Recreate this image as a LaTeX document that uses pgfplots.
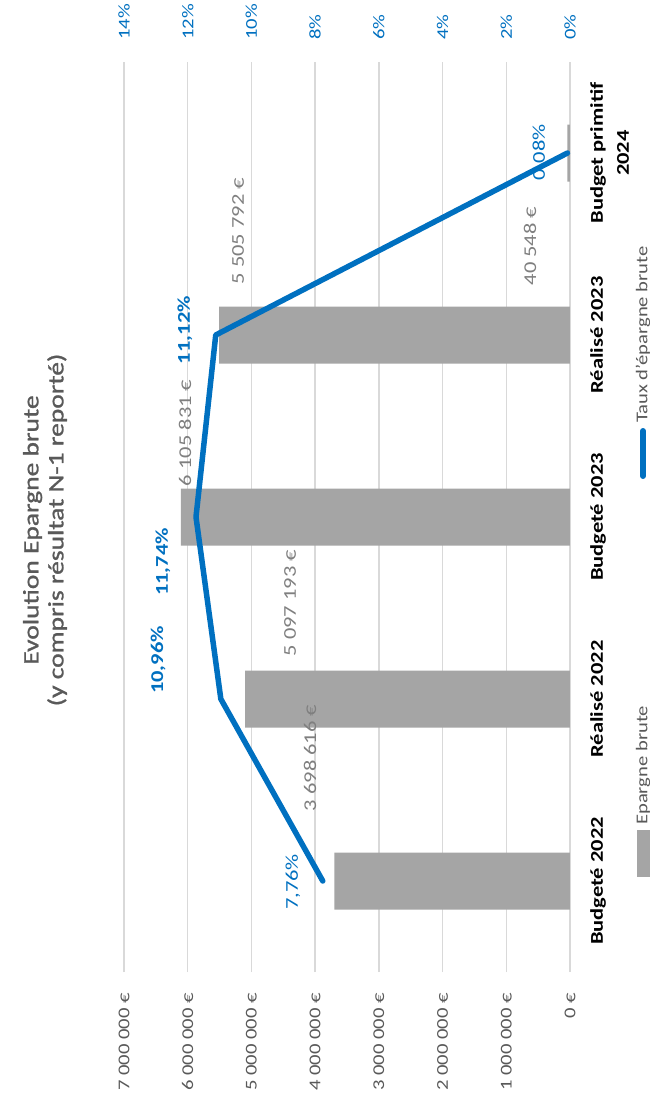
\documentclass[border=0pt]{standalone}
\usepackage{pgfplots}
\pgfplotsset{compat=1.18}
\usepackage{fontspec}
\setmainfont{Carlito}[FakeStretch=1.25]
\newfontfamily\titlefont{Carlito}[FakeStretch=1.25, FakeBold=1.2]
\definecolor{bargray}{HTML}{A5A5A5}
\definecolor{lineblue}{HTML}{0070C0}
\definecolor{txtgray}{HTML}{595959}
\definecolor{datagray}{HTML}{7F7F7F}
\definecolor{gridgray}{HTML}{D9D9D9}
\newcommand{\ticksize}{\fontsize{16.5}{19}\selectfont}
\newcommand{\catsize}{\fontsize{18}{26}\selectfont}
\newcommand{\datasize}{\fontsize{18}{22}\selectfont}
\newcommand{\titlesize}{\fontsize{22}{25}\selectfont}
\begin{document}
\begin{tikzpicture}
\path[use as bounding box] (0pt,0pt) rectangle (650pt,-1109pt);
\begin{axis}[
  at={(347pt,-517pt)}, anchor=center,
  scale only axis, width=446pt, height=910pt,
  xbar, bar width=57pt, bar shift=0pt,
  xmin=0, xmax=7000000, x dir=reverse,
  ymin=-0.5, ymax=4.5,
  ytick={0,1,2,3,4},
  yticklabels={Budgeté 2022,Réalisé 2022,Budgeté 2023,Réalisé 2023,{Budget primitif\\2024}},
  yticklabel pos=right,
  yticklabel style={rotate=90, anchor=north, align=center, font=\catsize\bfseries, text=black, inner sep=0pt},
  yticklabel shift=20pt,
  xtick={0,1000000,2000000,3000000,4000000,5000000,6000000,7000000},
  xticklabels={0~€,1~000~000~€,2~000~000~€,3~000~000~€,4~000~000~€,5~000~000~€,6~000~000~€,7~000~000~€},
  xticklabel style={rotate=90, anchor=east, font=\ticksize, text=txtgray, inner sep=0pt},
  xticklabel shift=21pt,
  scaled x ticks=false,
  major tick length=0pt,
  xmajorgrids, grid style={gridgray, line width=1.5pt},
  axis line style={draw=none},
  clip=false,
]
\addplot[fill=bargray, draw=none] coordinates {(3698616,0) (5097193,1) (6105831,2) (5505792,3) (40548,4)};
\node[rotate=90, font=\datasize, text=datagray] at (axis cs:4081000,0.676) {3~698~616~€};
\node[rotate=90, font=\datasize, text=datagray] at (axis cs:4395000,1.527) {5~097~193~€};
\node[rotate=90, font=\datasize, text=datagray] at (axis cs:6043000,2.462) {6~105~831~€};
\node[rotate=90, font=\datasize, text=datagray] at (axis cs:5211000,3.571) {5~505~792~€};
\node[rotate=90, font=\datasize, text=datagray] at (axis cs:628000,3.489) {40~548~€};
\node[rotate=90, font=\datasize, text=lineblue] at (axis cs:4348000,-0.005) {7,76\%};
\node[rotate=90, font=\datasize\bfseries, text=lineblue] at (axis cs:6466000,1.214) {10,96\%};
\node[rotate=90, font=\datasize\bfseries, text=lineblue] at (axis cs:6388000,1.753) {11,74\%};
\node[rotate=90, font=\datasize\bfseries, text=lineblue] at (axis cs:6043000,3.027) {11,12\%};
\node[rotate=90, font=\datasize, text=lineblue] at (axis cs:471000,4.005) {0,08\%};
\end{axis}
\begin{axis}[
  at={(347pt,-517pt)}, anchor=center,
  scale only axis, width=446pt, height=910pt,
  xmin=0, xmax=14, x dir=reverse,
  ymin=-0.5, ymax=4.5,
  ytick=\empty,
  xtick={0,2,4,6,8,10,12,14},
  xticklabels={0\%,2\%,4\%,6\%,8\%,10\%,12\%,14\%},
  xticklabel pos=top,
  xticklabel style={rotate=90, anchor=west, font=\ticksize, text=lineblue, inner sep=0pt},
  xticklabel shift=22pt,
  major tick length=0pt,
  axis line style={draw=none},
  clip=false,
]
\addplot[lineblue, line width=5.5pt, line join=round, line cap=round] coordinates {(7.76,0) (10.96,1) (11.74,2) (11.12,3) (0.08,4)};
\end{axis}
\node[rotate=90, align=center, font=\titlesize\titlefont, text=txtgray] at (45pt,-530pt) {Evolution Epargne brute\\(y compris résultat N-1 reporté)};
\fill[bargray] (637pt,-830pt) rectangle (652pt,-877pt);
\node[rotate=90, anchor=west, font=\ticksize, text=txtgray, inner sep=0pt] at (643pt,-825pt) {Epargne brute};
\draw[lineblue, line width=6pt, line cap=round] (643pt,-431pt) -- (643pt,-476pt);
\node[rotate=90, anchor=west, font=\ticksize, text=txtgray, inner sep=0pt] at (643pt,-423pt) {Taux d'épargne brute};
\end{tikzpicture}
\end{document}
